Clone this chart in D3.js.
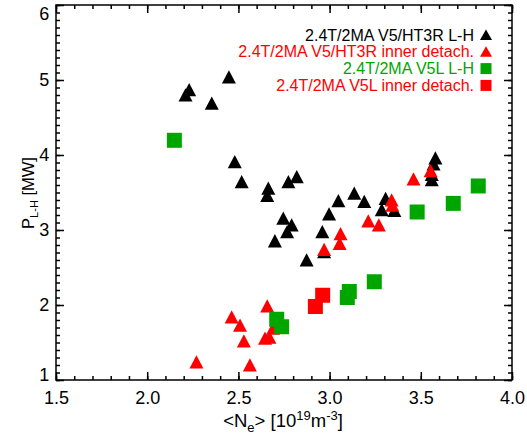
<!DOCTYPE html>
<html>
<head>
<meta charset="utf-8">
<script src="https://cdn.jsdelivr.net/npm/d3@7"></script>
<style>
  body { margin: 0; background: #fff; }
  svg text { font-family: "Liberation Sans", Arial, sans-serif; }
</style>
</head>
<body>
<div id="chart"></div>
<script>
// Series values
const blackTriX = [2.448, 2.23, 2.21, 2.354, 2.48, 2.518, 2.664, 2.658, 2.774, 2.82, 2.746, 2.792, 2.767, 2.70, 2.874, 2.96, 2.997, 3.048, 3.135, 3.19, 3.307, 3.286, 3.355, 3.58, 3.57, 3.56, 3.56, 2.97];
const blackTriY = [5.04, 4.87, 4.80, 4.69, 3.91, 3.644, 3.556, 3.46, 3.644, 3.71, 3.156, 3.067, 2.977, 2.855, 2.60, 2.977, 3.213, 3.39, 3.49, 3.38, 3.42, 3.27, 3.26, 3.96, 3.88, 3.74, 3.67, 2.71];

const redTriX = [2.27, 2.463, 2.509, 2.53, 2.563, 2.658, 2.646, 2.67, 2.69, 2.97, 3.06, 3.055, 3.212, 3.27, 3.34, 3.344, 3.46, 3.554];
const redTriY = [1.24, 1.84, 1.73, 1.52, 1.20, 1.987, 1.556, 1.57, 1.69, 2.74, 2.95, 2.82, 3.12, 3.067, 3.40, 3.33, 3.68, 3.79];

const greenSqX = [2.149, 2.71, 2.737, 3.108, 3.097, 3.245, 3.48, 3.678, 3.815];
const greenSqY = [4.196, 1.81, 1.71, 2.18, 2.10, 2.31, 3.24, 3.355, 3.587];

const redSqX = [2.962, 2.922];
const redSqY = [2.13, 1.98];

const legendLabels = [
  "2.4T/2MA V5/HT3R L-H",
  "2.4T/2MA V5/HT3R inner detach.",
  "2.4T/2MA V5L L-H",
  "2.4T/2MA V5L inner detach."
];

const xTicks = [1.5, 2.0, 2.5, 3.0, 3.5, 4.0];
const yTicks = [1, 2, 3, 4, 5, 6];

const W = 527, H = 435;
const L = 56, R = 512, T = 5, B = 380;

const svg = d3.select("#chart").append("svg")
  .attr("width", W).attr("height", H);

const x = d3.scaleLinear().domain([1.5, 4.0]).range([L, R]);
const y = d3.scaleLinear().domain([1, 6]).range([B, T]);

const xMinor = d3.range(15, 41).map(d => d / 10);
const yMinor = d3.range(10, 61).map(d => d / 10);

// Axes: ticks drawn inward on all four sides
function addAxis(axisFn, scale, trans, major, minor, labels) {
  svg.append("g").attr("transform", trans)
    .call(axisFn(scale).tickValues(minor).tickSize(-4).tickFormat(""))
    .call(g => g.select(".domain").remove())
    .selectAll("line").attr("stroke", "#000").attr("stroke-width", 1.5);
  const g = svg.append("g").attr("transform", trans)
    .call(axisFn(scale).tickValues(major).tickSize(-8).tickPadding(14)
      .tickFormat(labels ? labels : ""));
  g.select(".domain").remove();
  g.selectAll("line").attr("stroke", "#000").attr("stroke-width", 1.5);
  g.selectAll("text").attr("font-size", 18).attr("fill", "#000")
    .style("font-family", "'Liberation Sans', Arial, sans-serif");
  return g;
}

const gx = addAxis(d3.axisBottom, x, `translate(0,${B})`, xTicks, xMinor, d3.format(".1f"));
gx.selectAll("text").attr("dy", "0.55em");
addAxis(d3.axisTop, x, `translate(0,${T})`, xTicks, xMinor, null);
const gy = addAxis(d3.axisLeft, y, `translate(${L},0)`, yTicks, yMinor, d3.format("d"));
gy.selectAll("text").attr("dx", "0.4em")
  .attr("dy", d => d === 6 ? "0.82em" : d === 1 ? "0" : "0.32em");
addAxis(d3.axisRight, y, `translate(${R},0)`, yTicks, yMinor, null);

svg.append("rect")
  .attr("x", L).attr("y", T).attr("width", R - L).attr("height", B - T)
  .attr("fill", "none").attr("stroke", "#000").attr("stroke-width", 1.5);

// Axis titles
const xt = svg.append("text")
  .attr("x", 283).attr("y", 427)
  .attr("text-anchor", "middle").attr("font-size", 18.5);
xt.append("tspan").text("<N");
xt.append("tspan").attr("font-size", 13).attr("dy", 5).text("e");
xt.append("tspan").attr("dy", -5).text("> [10");
xt.append("tspan").attr("font-size", 13).attr("dy", -7).text("19");
xt.append("tspan").attr("dy", 7).text("m");
xt.append("tspan").attr("font-size", 13).attr("dy", -7).text("-3");
xt.append("tspan").attr("dy", 7).text("]");

const yt = svg.append("text")
  .attr("transform", `translate(34,193) rotate(-90)`)
  .attr("text-anchor", "middle").attr("font-size", 16.5);
yt.append("tspan").text("P");
yt.append("tspan").attr("font-size", 11).attr("dy", 4).text("L-H");
yt.append("tspan").attr("dy", -4).text(" [MW]");

// Markers
const tri = "M0,-6.8L7,6.5L-7,6.5Z";
const sq = "M-7.5,-7.5H7.5V7.5H-7.5Z";

function plot(xs, ys, shape, color) {
  svg.append("g").selectAll("path")
    .data(xs.map((d, i) => [d, ys[i]]))
    .join("path")
    .attr("d", shape)
    .attr("fill", color)
    .attr("transform", d => `translate(${x(d[0])},${y(d[1])})`);
}

plot(blackTriX, blackTriY, tri, "#000");
plot(redTriX, redTriY, tri, "#ff0000");
plot(greenSqX, greenSqY, sq, "#00a600");
plot(redSqX, redSqY, sq, "#ff0000");

// Legend
const legColors = ["#000", "#ff0000", "#00a600", "#ff0000"];
const leg = svg.append("g");
legendLabels.forEach((lab, i) => {
  const cy = 35 + i * 16.8;
  leg.append("text")
    .attr("x", 474).attr("y", cy + 5.5)
    .attr("text-anchor", "end").attr("font-size", 16)
    .attr("fill", legColors[i]).text(lab);
  leg.append("path")
    .attr("d", i < 2 ? "M0,-5.5L6,5L-6,5Z" : "M-5.5,-5.5H5.5V5.5H-5.5Z")
    .attr("fill", legColors[i])
    .attr("transform", `translate(486,${cy})`);
});
</script>
</body>
</html>
